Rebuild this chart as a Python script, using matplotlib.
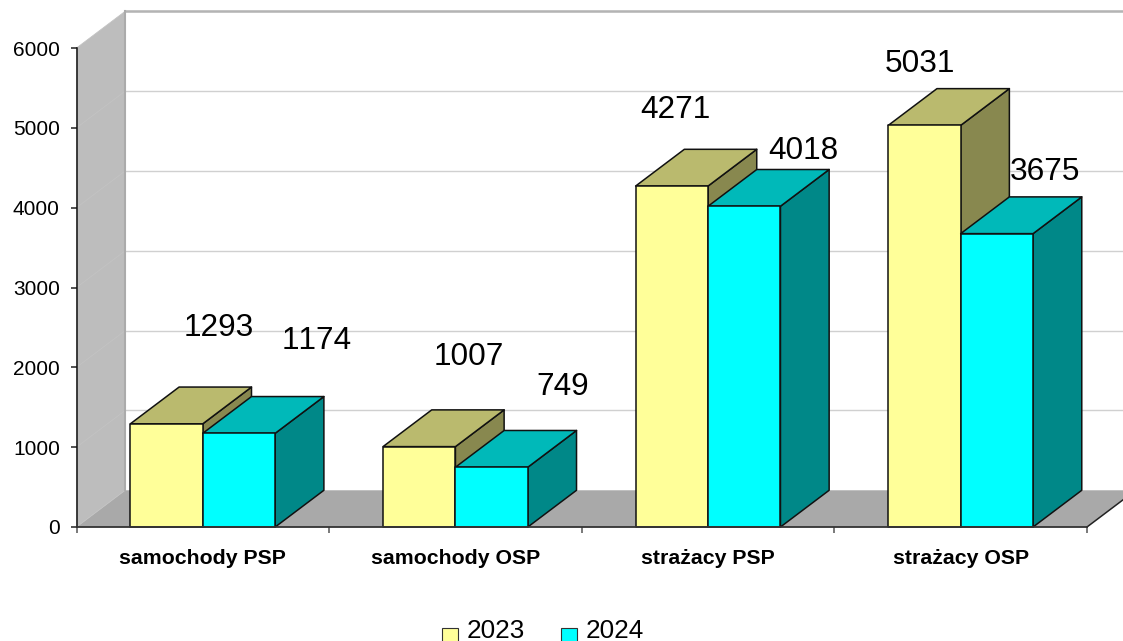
import matplotlib
matplotlib.use("Agg")
import matplotlib.pyplot as plt
from matplotlib.patches import Patch, Polygon

plt.rcParams['font.family'] = ['Liberation Sans', 'DejaVu Sans']
plt.rcParams['text.kerning_factor'] = 6

categories = ["samochody PSP", "samochody OSP", "strażacy PSP", "strażacy OSP"]
years = ["2023", "2024"]
values_2023 = [1293, 1007, 4271, 5031]
values_2024 = [1174, 749, 4018, 3675]
y_ticks = [0, 1000, 2000, 3000, 4000, 5000, 6000]

# label offsets in pixels from the front top centre of each bar
offsets_2023 = [(52, 96), (50, 90), (4, 76), (-5, 61)]
offsets_2024 = [(78, 92), (71, 80), (59, 55), (48, 62)]

bar_w = 0.2866
gap = 0.2134
dx = 0.1927   # depth of the fake 3d, x data units
dy = 460      # same in y data units

colors = {
    "2023": ("#FFFF99", "#BABA6E", "#88884F"),
    "2024": ("#00FFFF", "#00B9B9", "#008888"),
}
edge = "#111111"

W, H = 1123, 641
fig = plt.figure(figsize=(W / 100, H / 100), dpi=100)
ax = fig.add_axes([76.5 / W, 1 - 527 / H, 1010.5 / W, 479 / H])
ax.set_xlim(0, 4)
ax.set_ylim(0, 6000)
ax.patch.set_visible(False)


def poly(pts, fc, ec=edge, lw=1.1, z=3):
    ax.add_patch(Polygon(pts, closed=True, fc=fc, ec=ec, lw=lw, zorder=z,
                         clip_on=False, joinstyle='round'))


# walls and floor
poly([(0, 0), (dx, dy), (dx, 6000 + dy), (0, 6000)], "#BDBDBD", ec="none", z=1)
poly([(0, 0), (4, 0), (4 + dx, dy), (dx, dy)], "#A9A9A9", ec="none", z=1)
for t in y_ticks:
    ax.plot([0, dx], [t, t + dy], color="#C3C3C3", lw=0.6, zorder=1.5, clip_on=False)
    if t > 0:
        ax.plot([dx, 4 + dx], [t + dy, t + dy], color="#D0D0D0", lw=1.0, zorder=1.5,
                clip_on=False)
ax.plot([dx, 4 + dx], [6000 + dy, 6000 + dy], color="#B4B4B4", lw=1.8, zorder=1.6, clip_on=False)
ax.plot([dx, dx], [dy, 6000 + dy], color="#ABABAB", lw=1.5, zorder=1.6, clip_on=False)
ax.plot([4, 4 + dx], [0, dy], color="#222222", lw=1.1, zorder=1.6, clip_on=False)

# bars
for i in range(len(categories)):
    for j, (year, vals, offs) in enumerate(zip(years, [values_2023, values_2024],
                                               [offsets_2023, offsets_2024])):
        v = vals[i]
        x0 = i + gap + j * bar_w
        x1 = x0 + bar_w
        front, top, side = colors[year]
        z = 3 + j
        poly([(x1, 0), (x1 + dx, dy), (x1 + dx, v + dy), (x1, v)], side, z=z)
        poly([(x0, v), (x1, v), (x1 + dx, v + dy), (x0 + dx, v + dy)], top, z=z)
        poly([(x0, 0), (x1, 0), (x1, v), (x0, v)], front, z=z)
        ax.annotate(str(v), xy=((x0 + x1) / 2, v), xytext=offs[i],
                    textcoords='offset pixels', ha='center', va='center',
                    fontsize=22.7, color='black', zorder=10, annotation_clip=False)

# axes
for s in ['top', 'right']:
    ax.spines[s].set_visible(False)
ax.spines['left'].set_color("#111111")
ax.spines['bottom'].set_color("#333333")
ax.spines['left'].set_linewidth(1.1)
ax.spines['bottom'].set_linewidth(1.3)
ax.spines['left'].set_zorder(6)
ax.spines['bottom'].set_zorder(6)
ax.set_yticks(y_ticks)
ax.tick_params(axis='y', length=4.5, width=1.1, labelsize=15, pad=7.5, color="#222222")
ax.set_xticks(range(5))
ax.set_xticklabels([])
ax.tick_params(axis='x', which='major', length=4.5, width=1.1, color="#555555")
ax.set_xticks([i + 0.5 for i in range(4)], minor=True)
ax.set_xticklabels(categories, minor=True, fontsize=15.3, fontweight='bold')
ax.tick_params(axis='x', which='minor', length=0, pad=16.2)

handles = [Patch(fc=colors[y][0], ec="#333333", lw=0.8, label=y) for y in years]
leg = fig.legend(handles=handles, loc='center', bbox_to_anchor=(543 / W, 1 - 631 / H), ncol=2,
                 frameon=False, fontsize=18.8, handlelength=0.62, handleheight=0.58,
                 handletextpad=0.32, columnspacing=1.38, borderpad=0, labelspacing=0)
for p in leg.get_patches():
    p.set_y(p.get_y() - 5)

fig.savefig("out.png", dpi=100)
